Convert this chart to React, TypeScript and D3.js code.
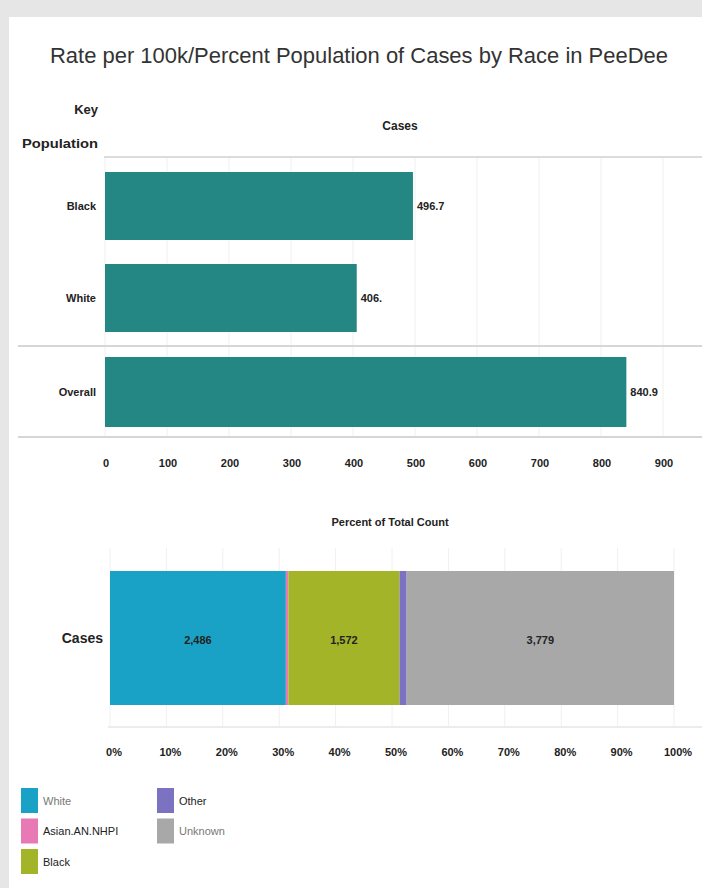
import React from "react";
import * as d3 from "d3";

const rateCategories = ["Black", "White", "Overall"];
const rateValues = [496.7, 406.0, 840.9];
const rateLabels = ["496.7", "406.", "840.9"];
const rateTicks = [0, 100, 200, 300, 400, 500, 600, 700, 800, 900];

const segCategories = ["White", "Asian.AN.NHPI", "Black", "Other", "Unknown"];
const segCounts = [2486, 35, 1572, 100, 3779];
const segLabels = ["2,486", "", "1,572", "", "3,779"];
const segColors = ["#1aa2c6", "#e879b5", "#a3b428", "#7b72c2", "#a8a8a8"];
const pctTicks = [0, 0.1, 0.2, 0.3, 0.4, 0.5, 0.6, 0.7, 0.8, 0.9, 1.0];

const legendOrder = [
  ["White", "Other"],
  ["Asian.AN.NHPI", "Unknown"],
  ["Black"],
];

const FONT = "'Liberation Sans Narrow', 'Arial Narrow', 'Liberation Sans', sans-serif";

export default function App() {
  const W = 702;
  const H = 888;

  const x = d3.scaleLinear().domain([0, 900]).range([105, 663]);
  const barY: Record<string, [number, number]> = {
    Black: [172, 240],
    White: [264, 332],
    Overall: [357, 427],
  };

  const px = d3.scaleLinear().domain([0, 1]).range([110, 674]);
  const total = d3.sum(segCounts);
  let acc = 0;
  const segs = segCounts.map((c, i) => {
    const s = { start: acc / total, end: (acc + c) / total, i };
    acc += c;
    return s;
  });

  return (
    <svg
      width={W}
      height={H}
      style={{ position: "absolute", left: 0, top: 0, fontFamily: FONT }}
    >
      <rect x={0} y={0} width={W} height={H} fill="#e6e6e6" />
      <rect x={9} y={17} width={W - 9} height={H - 17} fill="#ffffff" />

      <text x={50} y={63} fontSize={22} fill="#333" textLength={618} lengthAdjust="spacingAndGlyphs">
        Rate per 100k/Percent Population of Cases by Race in PeeDee
      </text>

      <text x={98} y={114} textAnchor="end" fontSize={13} fontWeight="bold" fill="#222">Key</text>
      <text x={98} y={148} textAnchor="end" fontSize={13} fontWeight="bold" fill="#222" textLength={76} lengthAdjust="spacingAndGlyphs">Population</text>
      <text x={400} y={130} textAnchor="middle" fontSize={12} fontWeight="bold" fill="#222">Cases</text>

      {rateTicks.map((t) => (
        <line key={"g" + t} x1={x(t)} x2={x(t)} y1={158} y2={437} stroke="#f0f0f0" strokeWidth={1} />
      ))}
      <line x1={104} x2={W} y1={157} y2={157} stroke="#dcdcdc" strokeWidth={2} />
      <line x1={18} x2={W} y1={346} y2={346} stroke="#d6d6d6" strokeWidth={2} />
      <line x1={18} x2={W} y1={437} y2={437} stroke="#d6d6d6" strokeWidth={2} />

      {rateCategories.map((c, i) => {
        const [y0, y1] = barY[c];
        const cy = (y0 + y1) / 2;
        return (
          <g key={c}>
            <rect x={x(0)} y={y0} width={x(rateValues[i]) - x(0)} height={y1 - y0} fill="#258783" />
            <text x={96} y={cy} dy="0.35em" textAnchor="end" fontSize={11} fontWeight="bold" fill="#222">{c}</text>
            <text x={x(rateValues[i]) + 4} y={cy} dy="0.35em" fontSize={11} fontWeight="bold" fill="#222">{rateLabels[i]}</text>
          </g>
        );
      })}

      {rateTicks.map((t) => (
        <text key={"t" + t} x={x(t) + 1} y={467} textAnchor="middle" fontSize={11} fontWeight="bold" fill="#222">{t}</text>
      ))}

      <text x={390} y={526} textAnchor="middle" fontSize={11} fontWeight="bold" fill="#222">Percent of Total Count</text>
      {pctTicks.map((t) => (
        <line key={"pg" + t} x1={px(t)} x2={px(t)} y1={548} y2={728} stroke="#f0f0f0" strokeWidth={1} />
      ))}
      <line x1={108} x2={W} y1={727} y2={727} stroke="#ececec" strokeWidth={2} />
      <text x={103} y={638} dy="0.35em" textAnchor="end" fontSize={14} fontWeight="bold" fill="#222">Cases</text>
      {segs.map((s) => (
        <g key={"s" + s.i}>
          <rect x={px(s.start)} y={571} width={px(s.end) - px(s.start)} height={134} fill={segColors[s.i]} />
          {segLabels[s.i] && (
            <text x={(px(s.start) + px(s.end)) / 2} y={640} dy="0.35em" textAnchor="middle" fontSize={11} fontWeight="bold" fill="#222">
              {segLabels[s.i]}
            </text>
          )}
        </g>
      ))}
      {pctTicks.map((t) => (
        <text key={"pt" + t} x={px(t) + 4} y={756} textAnchor="middle" fontSize={11} fontWeight="bold" fill="#222">
          {d3.format(".0%")(t)}
        </text>
      ))}

      {legendOrder.map((row, r) =>
        row.map((name, c) => {
          const idx = segCategories.indexOf(name);
          const sx = c === 0 ? 21 : 157;
          const sy = 788 + r * 30.5;
          return (
            <g key={name}>
              <rect x={sx} y={sy} width={17} height={25} fill={segColors[idx]} />
              <text x={sx + 22} y={sy + 13} dy="0.35em" fontSize={11} fill={name === "White" || name === "Unknown" ? "#777" : "#222"}>
                {name}
              </text>
            </g>
          );
        })
      )}
    </svg>
  );
}
